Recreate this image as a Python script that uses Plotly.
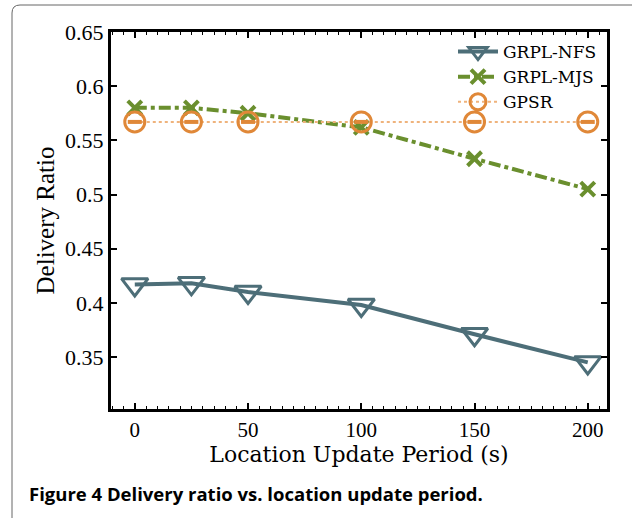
import plotly.graph_objects as go

x_period = [0, 25, 50, 100, 150, 200]
nfs = [0.417, 0.418, 0.410, 0.398, 0.371, 0.345]
mjs = [0.580, 0.580, 0.575, 0.562, 0.533, 0.505]
gpsr = [0.567, 0.567, 0.567, 0.567, 0.567, 0.567]
series_names = ["GRPL-NFS", "GRPL-MJS", "GPSR"]
y_ticks = [0.35, 0.4, 0.45, 0.5, 0.55, 0.6, 0.65]
y_tick_text = ["0.35", "0.4", "0.45", "0.5", "0.55", "0.6", "0.65"]
x_ticks = [0, 50, 100, 150, 200]

W, H = 632, 518
L, R, T, B = 111, 25, 32, 109
pw, ph = W - L - R, H - T - B

def px2paper(px, py):
    return (px - L) / pw, (H - B - py) / ph

c_nfs = "#4d6e78"
c_mjs = "#6a8f2e"
c_gpsr = "#e08838"
c_gpsr_line = "#efb37c"

fig = go.Figure()
fig.add_trace(go.Scatter(
    x=x_period, y=nfs, name=series_names[0], mode="lines+markers",
    line=dict(color=c_nfs, width=4),
    marker=dict(symbol="triangle-down-open", size=23, color=c_nfs, line=dict(width=3, color=c_nfs)),
))
fig.add_trace(go.Scatter(
    x=x_period, y=mjs, name=series_names[1], mode="lines+markers",
    line=dict(color=c_mjs, width=4, dash="dashdot"),
    marker=dict(symbol="x-thin-open", size=14, color=c_mjs, line=dict(width=4, color=c_mjs)),
))
fig.add_trace(go.Scatter(
    x=x_period, y=gpsr, name=series_names[2], mode="lines+markers",
    line=dict(color=c_gpsr_line, width=2, dash="dot"),
    marker=dict(symbol="circle-open", size=20, color=c_gpsr, line=dict(width=3, color=c_gpsr)),
))
fig.add_trace(go.Scatter(
    x=x_period, y=gpsr, showlegend=False, mode="markers", hoverinfo="skip",
    marker=dict(symbol="line-ew-open", size=10, color=c_gpsr, line=dict(width=4, color=c_gpsr)),
))

axis_common = dict(
    showline=True, linecolor="black", linewidth=3, mirror="allticks",
    ticks="inside", tickcolor="black", ticklen=6, tickwidth=2,
    showgrid=False, zeroline=False,
)
fig.update_xaxes(
    range=[-10.5, 208.5], tickvals=x_ticks, **axis_common,
    tickfont=dict(family="Liberation Serif", size=21, color="black"),
    minor=dict(dtick=5, ticks="inside", ticklen=3, tickwidth=1, tickcolor="black"),
    title=dict(text="Location Update Period (s)", font=dict(family="DejaVu Serif", size=22, color="black"), standoff=2),
)
fig.update_yaxes(
    range=[0.302, 0.65], tickvals=y_ticks, ticktext=y_tick_text, **axis_common,
    tickfont=dict(family="Liberation Serif", size=22, color="black"),
    title=dict(text="Delivery Ratio", font=dict(family="Liberation Serif", size=25, color="black"), standoff=4),
)

x0, y0 = px2paper(12, 530)
x1, y1 = px2paper(12, 13)
x2, y2 = px2paper(20, 5)
x3, y3 = px2paper(650, 5)
xq, yq = px2paper(12, 5)
fig.add_shape(type="path", xref="paper", yref="paper",
              path=f"M {x0},{y0} L {x1},{y1} Q {xq},{yq} {x2},{y2} L {x3},{y3}",
              line=dict(color="#666666", width=1))

cx, cy = px2paper(27, 493)
fig.add_annotation(xref="paper", yref="paper", x=cx, y=cy, xanchor="left", yanchor="middle",
                   text="<b>Figure 4 Delivery ratio vs. location update period.</b>",
                   showarrow=False, font=dict(family="Open Sans", size=18.5, color="black"))

lx, ly = px2paper(602, 34)
fig.update_layout(
    width=W, height=H, margin=dict(l=L, r=R, t=T, b=B),
    paper_bgcolor="white", plot_bgcolor="white",
    showlegend=True,
    legend=dict(x=lx, y=ly, xanchor="right", yanchor="top", bgcolor="rgba(0,0,0,0)",
                font=dict(family="DejaVu Serif", size=17, color="black"),
                tracegroupgap=0, itemwidth=40),
)
fig.write_html("out.html")
